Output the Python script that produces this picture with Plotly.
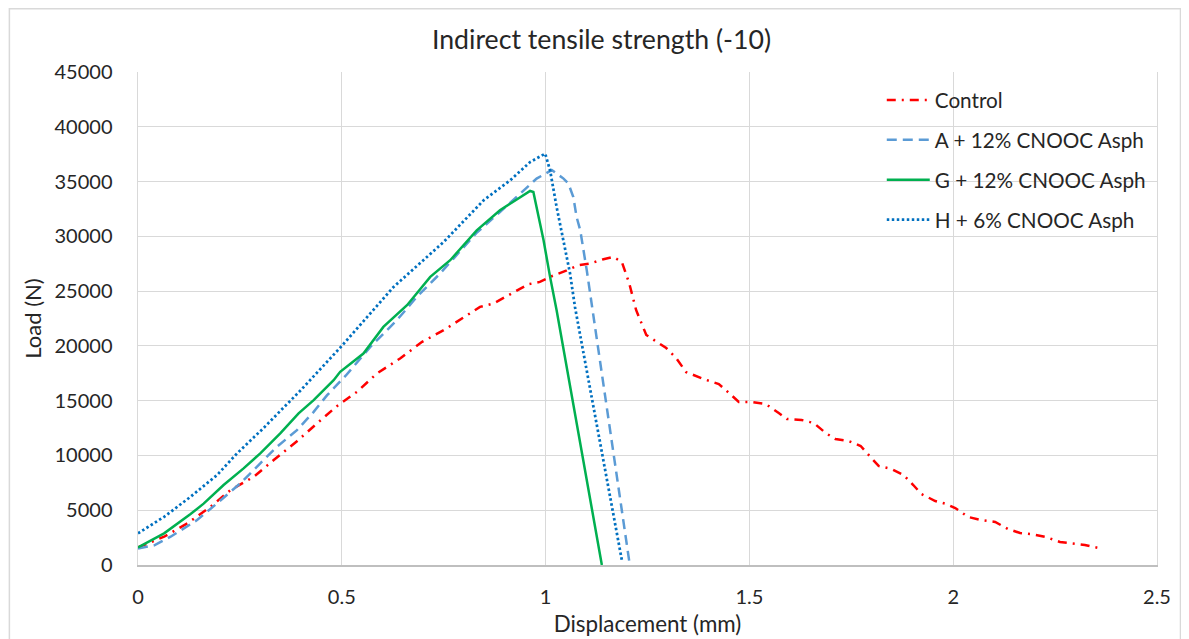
import plotly.graph_objects as go

# ---------------- data ----------------
control_x = [0, 0.064, 0.121, 0.178, 0.227, 0.284, 0.333, 0.39, 0.439, 0.488, 0.537, 0.586,
             0.643, 0.697, 0.75, 0.782, 0.839, 0.872, 0.921, 0.958, 0.986, 1.011, 1.052, 1.08,
             1.109, 1.142, 1.166, 1.187, 1.205, 1.222, 1.247, 1.296, 1.32, 1.345, 1.394, 1.425,
             1.45, 1.474, 1.506, 1.54, 1.572, 1.592, 1.628, 1.658, 1.687, 1.711, 1.743, 1.773,
             1.797, 1.817, 1.849, 1.878, 1.902, 1.922, 1.956, 1.983, 2.005, 2.037, 2.068, 2.103,
             2.134, 2.164, 2.191, 2.227, 2.262, 2.289, 2.323, 2.357]
control_y = [1600, 2580, 3800, 5320, 6840, 8050, 9580, 11300, 12920, 14500, 15800, 17480,
             18850, 20370, 21430, 22190, 23560, 23870, 24870, 25630, 25840, 26300, 26900, 27360,
             27520, 27910, 28120, 27660, 25740, 23280, 21000, 19800, 18900, 17600, 16890, 16520,
             15700, 14880, 14880, 14700, 13870, 13330, 13240, 12960, 12050, 11500, 11320, 10860,
             9860, 9040, 8760, 8220, 7300, 6480, 5840, 5570, 5200, 4380, 4110, 3930,
             3290, 2920, 2830, 2560, 2100, 2010, 1830, 1550]

a_x = [0, 0.04, 0.08, 0.145, 0.194, 0.251, 0.3, 0.341, 0.39, 0.431, 0.464, 0.51, 0.57,
       0.635, 0.684, 0.741, 0.774, 0.83, 0.888, 0.929, 0.978, 1.015, 1.044, 1.056, 1.068,
       1.076, 1.085, 1.101, 1.113, 1.205]
a_y = [1500, 1800, 2580, 4100, 5630, 7450, 9280, 10790, 12310, 13980, 15500, 17300, 19910,
       22340, 24470, 26600, 27970, 30300, 32220, 33590, 35270, 36050, 35270, 34810, 33590,
       31770, 30550, 26900, 23870, 400]

g_x = [0, 0.064, 0.129, 0.161, 0.21, 0.259, 0.3, 0.349, 0.394, 0.431, 0.48, 0.496, 0.553,
       0.602, 0.66, 0.717, 0.766, 0.831, 0.888, 0.938, 0.962, 0.97, 0.982, 0.995, 1.011,
       1.027, 1.138]
g_y = [1600, 2890, 4650, 5600, 7300, 8820, 10190, 12010, 13840, 15050, 16870, 17630, 19300,
       21730, 23710, 26300, 27820, 30550, 32380, 33590, 34140, 34050, 32080, 29640, 26300,
       23260, 0]

h_x = [0, 0.064, 0.129, 0.194, 0.243, 0.308, 0.366, 0.398, 0.5, 0.627, 0.75, 0.848, 0.913,
       0.962, 0.999, 1.011, 1.027, 1.044, 1.06, 1.072, 1.187]
h_y = [2890, 4400, 6230, 8210, 10190, 12500, 14700, 15900, 20000, 25380, 29490, 33290, 35110,
       36780, 37550, 36020, 32680, 29640, 26600, 23560, 450]

series_names = ["Control", "A + 12% CNOOC Asph", "G + 12% CNOOC Asph", "H + 6% CNOOC Asph"]
x_ticks = [0, 0.5, 1, 1.5, 2, 2.5]
y_ticks = [0, 5000, 10000, 15000, 20000, 25000, 30000, 35000, 40000, 45000]

# ---------------- figure ----------------
FONT = "Lato, 'Liberation Sans', Arial, sans-serif"
TXT = "#262626"
GRID = "#D9D9D9"

fig = go.Figure()
fig.add_trace(go.Scatter(x=control_x, y=control_y, mode="lines", name=series_names[0],
                         legendgroup="c",
                         line=dict(color="#FF0000", width=2.5, dash="9px,6px,2px,6px")))
fig.add_trace(go.Scatter(x=a_x, y=a_y, mode="lines", name=series_names[1], legendgroup="a",
                         line=dict(color="#5B9BD5", width=2.5, dash="10px,6px")))
fig.add_trace(go.Scatter(x=g_x, y=g_y, mode="lines", name=series_names[2], legendgroup="g",
                         line=dict(color="#00B050", width=2.5)))
fig.add_trace(go.Scatter(x=h_x, y=h_y, mode="lines", name=series_names[3], legendgroup="h",
                         line=dict(color="#0070C0", width=2.75, dash="2.5px,2.5px")))

# the page adds an 8px body margin, so the figure is laid out 8px smaller
OFF = 8
W, H = 1189 - OFF, 639 - OFF
L, R, T, B = 137.5 - OFF, 31.5, 72 - OFF, 74
pw = W - L - R
ph = H - T - B
AX_BOTTOM = T + ph  # pixel row of y = 0 inside the figure

fig.update_layout(
    width=W, height=H,
    margin=dict(l=L, r=R, t=T, b=B, pad=0, autoexpand=False),
    paper_bgcolor="white", plot_bgcolor="white",
    font=dict(family=FONT, size=20, color=TXT),
    title=dict(text="Indirect tensile strength (-10)", x=(601.5 - OFF) / W, xanchor="center",
               y=1 - (40 - OFF) / H, yanchor="middle",
               font=dict(family=FONT, size=26.7, color=TXT)),
    xaxis=dict(range=[0, 2.5], tickvals=x_ticks, ticktext=[str(v) for v in x_ticks],
               automargin=False,
               showgrid=True, gridcolor=GRID, gridwidth=1,
               zeroline=False, showline=True, linecolor="#BFBFBF", linewidth=1.5,
               ticks="outside", ticklen=13, tickcolor="rgba(0,0,0,0)",
               tickfont=dict(size=20, color=TXT),
               title=dict(text="Displacement (mm)", standoff=10,
                          font=dict(size=22.4, color=TXT))),
    yaxis=dict(range=[0, 45000], tickvals=y_ticks, tickformat="d",
               automargin=False,
               showgrid=True, gridcolor=GRID, gridwidth=1,
               zeroline=False, showline=True, linecolor=GRID, linewidth=1, mirror=True,
               ticks="outside", ticklen=20.5, tickcolor="rgba(0,0,0,0)",
               tickfont=dict(size=20, color=TXT),
               title=dict(text="Load (N)", standoff=6,
                          font=dict(size=22, color=TXT))),
    legend=dict(x=(882 - OFF - L) / pw, y=(AX_BOTTOM - (80 - OFF)) / ph,
                xanchor="left", yanchor="top", itemwidth=43,
                bgcolor="rgba(255,255,255,0)", borderwidth=0,
                tracegroupgap=10, font=dict(size=20.7, color=TXT)),
    showlegend=True,
)

# chart-area border (Excel style)
fig.add_shape(type="rect", xref="paper", yref="paper",
              x0=(0.75 - L) / pw, x1=(1181 - OFF - L) / pw,
              y0=(AX_BOTTOM - 660) / ph, y1=(AX_BOTTOM - 0.75) / ph,
              line=dict(color=GRID, width=1.5), fillcolor="rgba(0,0,0,0)", layer="below")

fig.write_html("out.html")
